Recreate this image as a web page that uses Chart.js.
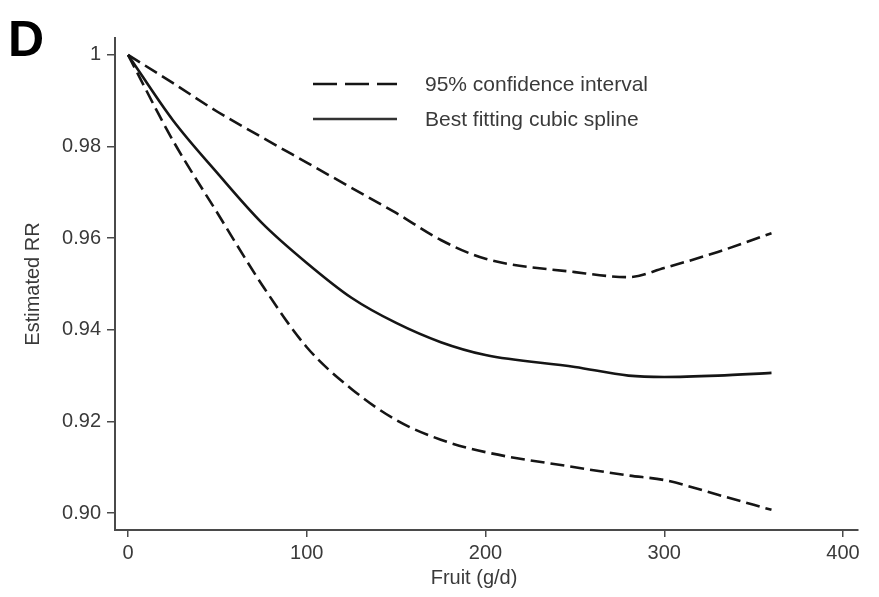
<!DOCTYPE html>
<html>
<head>
<meta charset="utf-8">
<script src="https://cdn.jsdelivr.net/npm/chart.js@4/dist/chart.umd.min.js"></script>
<style>
  body { margin: 0; background: #fff; }
  #wrap { width: 879px; height: 597px; position: relative; }
</style>
</head>
<body>
<div id="wrap"><canvas id="rrChart" width="879" height="597"></canvas></div>
<script>
  var fruit = [0, 25, 50, 75, 100, 125, 150, 175, 200, 250, 280, 300, 330, 360];
  var upperCI = [1.0, 0.9939, 0.9876, 0.9820, 0.9765, 0.9710, 0.9655, 0.9596, 0.9555, 0.9526, 0.9515, 0.9535, 0.9570, 0.9611];
  var spline = [1.0, 0.9858, 0.9742, 0.9633, 0.9546, 0.9470, 0.9415, 0.9373, 0.9345, 0.9319, 0.9300, 0.9297, 0.9300, 0.9306];
  var lowerCI = [1.0, 0.9814, 0.9655, 0.9498, 0.9362, 0.9271, 0.9203, 0.9160, 0.9133, 0.9100, 0.9082, 0.9072, 0.9040, 0.9007];
  var xTicks = [0, 100, 200, 300, 400];
  var yTicks = [0.90, 0.92, 0.94, 0.96, 0.98, 1.0];

  var lineCol = '#151515';
  var axisCol = '#4a4a4a';
  var textCol = '#3a3a3a';

  function toPoints(ys){
    return fruit.map((x, i) => ({x: x, y: ys[i]}));
  }

  function lineSet(label, ys, dash){
    return {
      label: label,
      data: toPoints(ys),
      borderColor: lineCol,
      borderWidth: 2.6,
      borderDash: dash,
      pointRadius: 0,
      cubicInterpolationMode: 'monotone',
      fill: false
    };
  }

  // extra text: panel letter, axis titles, legend
  var decorations = {
    id: 'decorations',
    afterDraw(chart){
      var ctx = chart.ctx;
      ctx.save();
      ctx.fillStyle = '#000';
      ctx.font = 'bold 50px "Liberation Sans", Arial, sans-serif';
      ctx.textBaseline = 'alphabetic';
      ctx.textAlign = 'left';
      ctx.fillText('D', 8, 56);

      ctx.fillStyle = textCol;
      ctx.font = '20px "Liberation Sans", Arial, sans-serif';
      ctx.textAlign = 'center';
      ctx.textBaseline = 'middle';
      ctx.fillText('Fruit (g/d)', 474, 578);

      ctx.save();
      ctx.translate(33, 284);
      ctx.rotate(-Math.PI / 2);
      ctx.fillText('Estimated RR', 0, 0);
      ctx.restore();

      // legend
      ctx.strokeStyle = lineCol;
      ctx.lineWidth = 2.6;
      ctx.setLineDash([24, 8]);
      ctx.beginPath();
      ctx.moveTo(313, 84);
      ctx.lineTo(397, 84);
      ctx.stroke();
      ctx.setLineDash([]);
      ctx.strokeStyle = '#333';
      ctx.beginPath();
      ctx.moveTo(313, 119);
      ctx.lineTo(397, 119);
      ctx.stroke();

      ctx.fillStyle = textCol;
      ctx.font = '21px "Liberation Sans", Arial, sans-serif';
      ctx.textAlign = 'left';
      ctx.fillText('95% confidence interval', 425, 85);
      ctx.fillText('Best fitting cubic spline', 425, 120);
      ctx.restore();
    }
  };

  var ctxRR = document.getElementById('rrChart').getContext('2d');
  var rrChart = new Chart(ctxRR, {
    type: 'line',
    data: {
      datasets: [
        lineSet('95% confidence interval', upperCI, [14, 6]),
        lineSet('Best fitting cubic spline', spline, []),
        lineSet('95% confidence interval (lower)', lowerCI, [14, 6])
      ]
    },
    options: {
      responsive: false,
      animation: false,
      layout: { padding: { top: 38, right: 21, left: 0, bottom: 0 } },
      plugins: {
        legend: { display: false },
        tooltip: { enabled: false }
      },
      scales: {
        x: {
          type: 'linear',
          min: -7.3,
          max: 408.4,
          afterBuildTicks: (axis) => { axis.ticks = xTicks.map(v => ({value: v})); },
          afterFit: (axis) => { axis.height = 67; },
          grid: { drawOnChartArea: false, drawTicks: true, tickLength: 7, color: axisCol, lineWidth: 1.5 },
          border: { color: axisCol, width: 2 },
          ticks: {
            color: textCol,
            padding: 4,
            maxRotation: 0,
            font: { family: '"Liberation Sans", Arial, sans-serif', size: 20 }
          }
        },
        y: {
          type: 'linear',
          min: 0.8963,
          max: 1.0037,
          afterBuildTicks: (axis) => { axis.ticks = yTicks.map(v => ({value: v})); },
          afterFit: (axis) => { axis.width = 115; },
          grid: { drawOnChartArea: false, drawTicks: true, tickLength: 8, color: axisCol, lineWidth: 1.5 },
          border: { color: axisCol, width: 2 },
          ticks: {
            color: textCol,
            padding: 6,
            font: { family: '"Liberation Sans", Arial, sans-serif', size: 20 },
            callback: (v) => (Math.abs(v - 1) < 1e-9 ? '1' : v.toFixed(2))
          }
        }
      }
    },
    plugins: [decorations]
  });
</script>
</body>
</html>
